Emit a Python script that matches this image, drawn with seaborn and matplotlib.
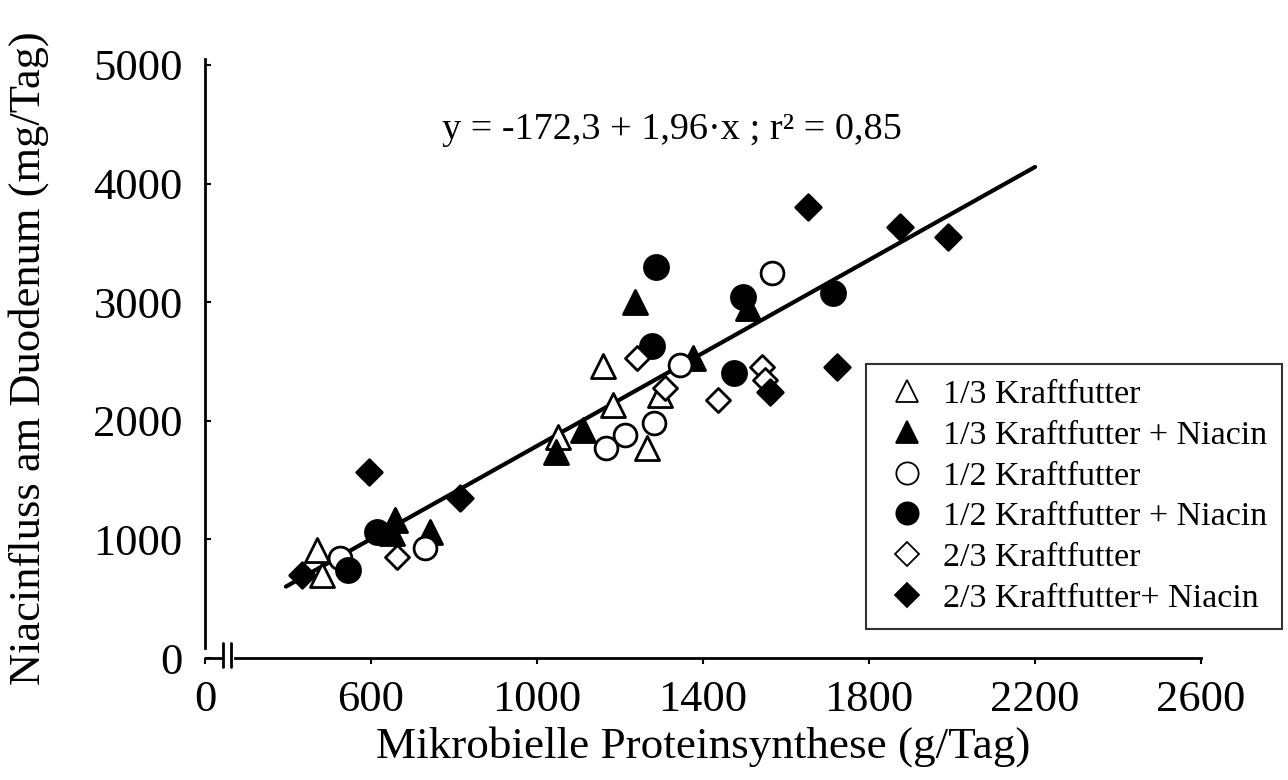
import numpy as np
import pandas as pd
import seaborn as sns
import matplotlib.pyplot as plt
from matplotlib.lines import Line2D

# values (x: g/Tag, y: mg/Tag)
t13_x = [470, 482, 1051, 1159, 1183, 1296, 1265]
t13_y = [910, 700, 1863, 2462, 2133, 2217, 1770]
t13n_x = [658, 651, 742, 1046, 1111, 1236, 1376, 1508]
t13n_y = [1163, 1054, 1062, 1737, 1922, 3002, 2530, 2951]
c12_x = [525, 730, 1166, 1212, 1282, 1345, 1566]
c12_y = [843, 927, 1770, 1880, 1981, 2470, 3246]
c12n_x = [545, 614, 1277, 1287, 1496, 1475, 1713]
c12n_y = [742, 1062, 2631, 3297, 3044, 2403, 3078]
d23_x = [663, 1241, 1308, 1436, 1542, 1549]
d23_y = [852, 2530, 2277, 2175, 2454, 2344]
d23n_x = [434, 595, 814, 1561, 1653, 1723, 1875, 1990]
d23n_y = [700, 1568, 1349, 2243, 3803, 2454, 3634, 3550]

intercept, slope = -172.3, 1.96
fit_range = [395, 2200]

x_ticks = [200, 600, 1000, 1400, 1800, 2200, 2600]
x_ticklabels = ['0', '600', '1000', '1400', '1800', '2200', '2600']
y_ticks = [0, 1000, 2000, 3000, 4000, 5000]

groups = [
    ('1/3 Kraftfutter', t13_x, t13_y, '^', 'white', 300),
    ('1/3 Kraftfutter + Niacin', t13n_x, t13n_y, '^', 'black', 300),
    ('1/2 Kraftfutter', c12_x, c12_y, 'o', 'white', 270),
    ('1/2 Kraftfutter + Niacin', c12n_x, c12n_y, 'o', 'black', 300),
    ('2/3 Kraftfutter', d23_x, d23_y, 'D', 'white', 150),
    ('2/3 Kraftfutter+ Niacin', d23n_x, d23n_y, 'D', 'black', 170),
]

sns.set_style('white')
plt.rcParams['font.family'] = ['Liberation Serif', 'DejaVu Serif']
plt.rcParams['text.color'] = 'black'
plt.rcParams['axes.labelcolor'] = 'black'
plt.rcParams['xtick.color'] = 'black'
plt.rcParams['ytick.color'] = 'black'

fig = plt.figure(figsize=(12.88, 7.8), dpi=100)
ax = fig.add_axes([205 / 1288, 122 / 780, 996 / 1288, 599 / 780])

# regression line
xl = np.array(fit_range, dtype=float)
line_df = pd.DataFrame({'x': xl, 'y': intercept + slope * xl})
sns.lineplot(data=line_df, x='x', y='y', color='black', linewidth=3, ax=ax, zorder=1)

handles = []
for name, xs, ys, mk, fc, s in groups:
    df = pd.DataFrame({'x': xs, 'y': ys})
    sns.scatterplot(data=df, x='x', y='y', marker=mk, s=s, facecolor=fc,
                    edgecolor='black', linewidth=2, ax=ax, zorder=3)
    ms = 16 if mk != 'D' else 12
    handles.append(Line2D([], [], linestyle='none', marker=mk, markersize=ms,
                          markerfacecolor=fc, markeredgecolor='black',
                          markeredgewidth=1.3, label=name))

ax.set_xlim(200, 2600)
ax.set_ylim(0, 5050)
ax.set_xticks(x_ticks)
ax.set_xticklabels(x_ticklabels)
ax.set_yticks(y_ticks)
ax.tick_params(axis='x', direction='out', length=4, width=1.5, pad=12, labelsize=32)
ax.tick_params(axis='y', direction='in', length=4, width=1.5, pad=16, labelsize=32)
ax.tick_params(bottom=True, left=True)

for side in ['top', 'right']:
    ax.spines[side].set_visible(False)
for side in ['left', 'bottom']:
    ax.spines[side].set_linewidth(2)
    ax.spines[side].set_color('black')
ax.spines['left'].set_bounds(84, 5050)
ax.spines['bottom'].set_bounds(272, 2600)

# axis break on x-axis
ax.plot([200, 241], [0, 0], color='black', linewidth=2, clip_on=False)
for bx in [243, 262]:
    ax.plot([bx, bx], [-76, 126], color='black', linewidth=2, clip_on=False)

ax.set_xlabel('Mikrobielle Proteinsynthese (g/Tag)', fontsize=32.5, labelpad=4)
ax.set_ylabel('Niacinfluss am Duodenum (mg/Tag)', fontsize=32, labelpad=32)

ax.text(0.469, 0.882, 'y = -172,3 + 1,96·x ; r² = 0,85', transform=ax.transAxes,
        ha='center', va='center', fontsize=27.5)

leg = ax.legend(handles=handles, loc='upper left', bbox_to_anchor=(866 / 1288, 416 / 780),
                bbox_transform=fig.transFigure, fontsize=24.5, frameon=True, fancybox=False,
                handletextpad=0.3, labelspacing=0.29, borderpad=0.45, handlelength=1.5,
                borderaxespad=0)
leg.get_frame().set_edgecolor('black')
leg.get_frame().set_linewidth(1.5)

fig.savefig('out.png', dpi=100)
